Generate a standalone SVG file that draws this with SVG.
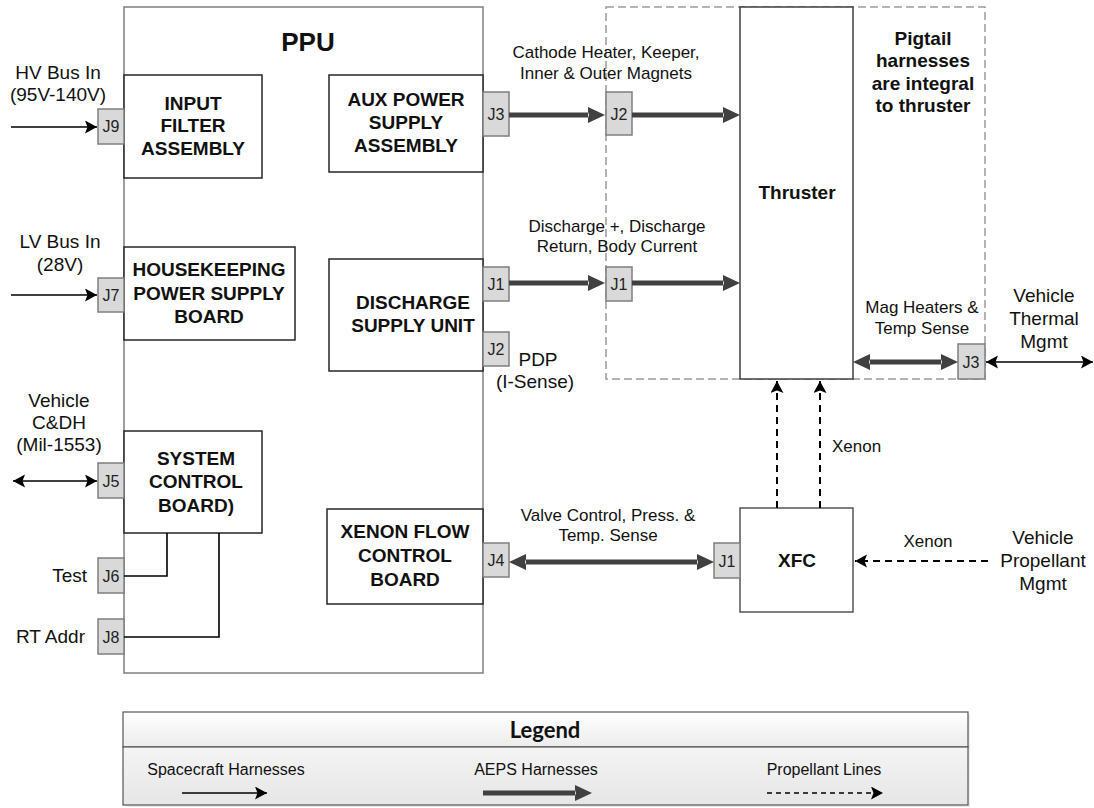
<svg xmlns="http://www.w3.org/2000/svg" width="1094" height="808" viewBox="0 0 1094 808">
<style>
.t{font-family:"Liberation Sans",Arial,sans-serif;font-size:19px;fill:#111}
.s{font-family:"Liberation Sans",Arial,sans-serif;font-size:17px;fill:#111}
.b{font-family:"Liberation Sans",Arial,sans-serif;font-size:19px;font-weight:bold;fill:#111}
.j{font-family:"Liberation Sans",Arial,sans-serif;font-size:16px;fill:#222}
.lg{font-family:"Liberation Sans",Arial,sans-serif;font-size:16px;fill:#111}
.c{text-anchor:middle}
.e{text-anchor:end}
.box{fill:#fff;stroke:#262626;stroke-width:1.5}
.jb{fill:#d9d9d9;stroke:#7f7f7f;stroke-width:1.5}
.thin{fill:none;stroke:#000;stroke-width:1.6}
.thick{fill:none;stroke:#404040;stroke-width:5}
.dash{fill:none;stroke:#000;stroke-width:2;stroke-dasharray:7,5}
</style>
<defs>
<marker id="ah" markerUnits="userSpaceOnUse" markerWidth="14" markerHeight="14" refX="12" refY="6.5" orient="auto-start-reverse"><path d="M0,0 L12,6.5 L0,13 L2.5,6.5 z" fill="#000"/></marker>
<marker id="th" markerUnits="userSpaceOnUse" markerWidth="20" markerHeight="20" refX="0" refY="9" orient="auto-start-reverse"><path d="M-2,0 L17,9 L-2,18 L1,9 z" fill="#404040"/></marker>
<marker id="dh" markerUnits="userSpaceOnUse" markerWidth="14" markerHeight="14" refX="12" refY="6.5" orient="auto-start-reverse"><path d="M0,0 L12,6.5 L0,13 L2.5,6.5 z" fill="#000"/></marker>
<linearGradient id="lgt" x1="0" y1="0" x2="0" y2="1"><stop offset="0" stop-color="#ffffff"/><stop offset="1" stop-color="#ececec"/></linearGradient>
<linearGradient id="lgb" x1="0" y1="0" x2="0" y2="1"><stop offset="0" stop-color="#f4f4f4"/><stop offset="1" stop-color="#e6e6e6"/></linearGradient>
</defs>

<g id="ppu">
<rect x="124" y="7" width="359" height="666" fill="#fff" stroke="#7f7f7f" stroke-width="1.5"/>
<text class="b c" x="308" y="51" style="font-size:26px">PPU</text>
</g>

<g id="thruster-area">
<rect x="606" y="7" width="379" height="372" fill="none" stroke="#9a9a9a" stroke-width="1.5" stroke-dasharray="8,4"/>
<text class="b c" x="923" y="45">Pigtail</text>
<text class="b c" x="923" y="67">harnesses</text>
<text class="b c" x="923" y="90">are integral</text>
<text class="b c" x="923" y="112">to thruster</text>
</g>

<g id="thruster">
<rect x="740" y="7" width="113" height="372" fill="#fff" stroke="#404040" stroke-width="1.5"/>
<text class="b c" x="797" y="199">Thruster</text>
</g>

<g id="input-filter">
<rect class="box" x="124" y="75" width="138" height="103"/>
<text class="b c" x="193" y="110">INPUT</text>
<text class="b c" x="193" y="132">FILTER</text>
<text class="b c" x="193" y="155">ASSEMBLY</text>
</g>

<g id="housekeeping">
<rect class="box" x="124" y="247" width="171" height="93"/>
<text class="b c" x="209" y="276">HOUSEKEEPING</text>
<text class="b c" x="209" y="300">POWER SUPPLY</text>
<text class="b c" x="209" y="323">BOARD</text>
</g>

<g id="system-control">
<rect class="box" x="124" y="431" width="138" height="102"/>
<text class="b c" x="196" y="465">SYSTEM</text>
<text class="b c" x="196" y="488">CONTROL</text>
<text class="b c" x="196" y="512">BOARD)</text>
</g>

<g id="aux-power">
<rect class="box" x="329" y="75" width="154" height="97"/>
<text class="b c" x="406" y="106">AUX POWER</text>
<text class="b c" x="406" y="129">SUPPLY</text>
<text class="b c" x="406" y="152">ASSEMBLY</text>
</g>

<g id="discharge">
<rect class="box" x="329" y="259" width="154" height="112"/>
<text class="b c" x="413" y="309">DISCHARGE</text>
<text class="b c" x="413" y="332">SUPPLY UNIT</text>
</g>

<g id="xenon-flow">
<rect class="box" x="327" y="509" width="156" height="95"/>
<text class="b c" x="405" y="538">XENON FLOW</text>
<text class="b c" x="405" y="562">CONTROL</text>
<text class="b c" x="405" y="586">BOARD</text>
</g>

<g id="xfc">
<rect x="740" y="508" width="113" height="104" fill="#fff" stroke="#555" stroke-width="1.5"/>
<text class="b c" x="797" y="567">XFC</text>
</g>

<g id="jacks">
<rect class="jb" x="98" y="109" width="26" height="35"/><text class="j c" x="111" y="132">J9</text>
<rect class="jb" x="98" y="278" width="26" height="34"/><text class="j c" x="111" y="301">J7</text>
<rect class="jb" x="98" y="463" width="26" height="35"/><text class="j c" x="111" y="487">J5</text>
<rect class="jb" x="98" y="558" width="26" height="35"/><text class="j c" x="111" y="582">J6</text>
<rect class="jb" x="98" y="619" width="26" height="35"/><text class="j c" x="111" y="643">J8</text>
<rect class="jb" x="483" y="92" width="26" height="44"/><text class="j c" x="496" y="120">J3</text>
<rect class="jb" x="483" y="267" width="26" height="34"/><text class="j c" x="496" y="290">J1</text>
<rect class="jb" x="483" y="332" width="26" height="34"/><text class="j c" x="496" y="355">J2</text>
<rect class="jb" x="483" y="543" width="26" height="34"/><text class="j c" x="496" y="566">J4</text>
<rect class="jb" x="606" y="92" width="26" height="43"/><text class="j c" x="619" y="120">J2</text>
<rect class="jb" x="606" y="267" width="26" height="34"/><text class="j c" x="619" y="290">J1</text>
<rect class="jb" x="958" y="344" width="27" height="35"/><text class="j c" x="971" y="368">J3</text>
<rect class="jb" x="714" y="543" width="26" height="35"/><text class="j c" x="727" y="567">J1</text>
</g>

<g id="connectors">
<path class="thin" d="M11,127 H97" marker-end="url(#ah)"/>
<path class="thin" d="M11,295 H97" marker-end="url(#ah)"/>
<path class="thin" d="M13,481 H97" marker-start="url(#ah)" marker-end="url(#ah)"/>
<path class="thin" d="M986,362 H1093" marker-start="url(#ah)" marker-end="url(#ah)"/>
<path class="thin" d="M124,576 H167 V533"/>
<path class="thin" d="M124,637 H219 V533"/>
<path class="thick" d="M509,115 H588" marker-end="url(#th)"/>
<path class="thick" d="M632,115 H723" marker-end="url(#th)"/>
<path class="thick" d="M509,283 H588" marker-end="url(#th)"/>
<path class="thick" d="M632,283 H723" marker-end="url(#th)"/>
<path class="thick" d="M870,362 H941" marker-start="url(#th)" marker-end="url(#th)"/>
<path class="thick" d="M526,562 H697" marker-start="url(#th)" marker-end="url(#th)"/>
<path class="dash" d="M777,508 V381" marker-end="url(#dh)"/>
<path class="dash" d="M820,508 V381" marker-end="url(#dh)"/>
<path class="dash" d="M988,561 H855" marker-end="url(#dh)"/>
</g>

<g id="labels">
<text class="t c" x="58" y="79">HV Bus In</text>
<text class="t c" x="58" y="101">(95V-140V)</text>
<text class="t c" x="60" y="248">LV Bus In</text>
<text class="t c" x="60" y="271">(28V)</text>
<text class="t c" x="59" y="407">Vehicle</text>
<text class="t c" x="59" y="429">C&amp;DH</text>
<text class="t c" x="59" y="451">(Mil-1553)</text>
<text class="t e" x="87" y="582">Test</text>
<text class="t e" x="85" y="643">RT Addr</text>
<text class="s c" x="606" y="58">Cathode Heater, Keeper,</text>
<text class="s c" x="606" y="79">Inner &amp; Outer Magnets</text>
<text class="s c" x="617" y="232">Discharge +, Discharge</text>
<text class="s c" x="617" y="252">Return, Body Current</text>
<text class="t c" x="538" y="366">PDP</text>
<text class="t c" x="535" y="388">(I-Sense)</text>
<text class="s c" x="922" y="313">Mag Heaters &amp;</text>
<text class="s c" x="922" y="334">Temp Sense</text>
<text class="t c" x="1044" y="302">Vehicle</text>
<text class="t c" x="1044" y="325">Thermal</text>
<text class="t c" x="1044" y="348">Mgmt</text>
<text class="s" x="832" y="452">Xenon</text>
<text class="s c" x="608" y="521">Valve Control, Press. &amp;</text>
<text class="s c" x="608" y="541">Temp. Sense</text>
<text class="s c" x="928" y="547">Xenon</text>
<text class="t c" x="1043" y="544">Vehicle</text>
<text class="t c" x="1043" y="567">Propellant</text>
<text class="t c" x="1043" y="590">Mgmt</text>
</g>

<g id="legend">
<rect x="125" y="714" width="845" height="93" fill="#d8d8d8" opacity="0.5"/>
<rect x="123" y="712" width="845" height="35" fill="url(#lgt)" stroke="#555" stroke-width="1.2"/>
<rect x="123" y="747" width="845" height="58" fill="url(#lgb)" stroke="#555" stroke-width="1.2"/>
<text x="545" y="738" style="font-family:Lato,'Liberation Sans',sans-serif;font-size:22px;font-weight:bold;fill:#111;text-anchor:middle">Legend</text>
<text class="lg c" x="226" y="775">Spacecraft Harnesses</text>
<text class="lg c" x="536" y="775">AEPS Harnesses</text>
<text class="lg c" x="824" y="775">Propellant Lines</text>
<path class="thin" d="M182,793 H267" marker-end="url(#ah)"/>
<path class="thick" d="M483,793 H575" marker-end="url(#th)"/>
<path class="dash" d="M767,793 H883" style="stroke-width:1.6;stroke-dasharray:5,4" marker-end="url(#dh)"/>
</g>
</svg>
